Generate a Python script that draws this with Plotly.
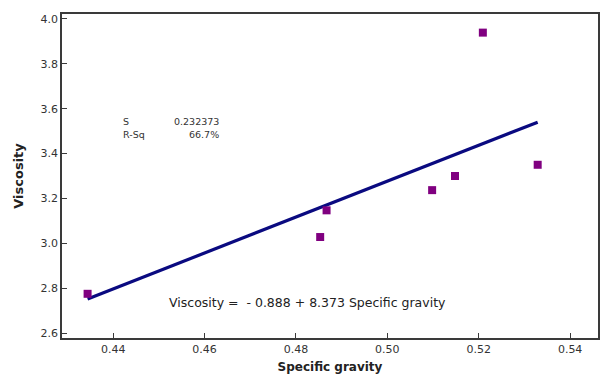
import plotly.graph_objects as go

# Data
sg = [0.4344, 0.4853, 0.4867, 0.5098, 0.5148, 0.5209, 0.5329]
visc = [2.775, 3.028, 3.147, 3.237, 3.300, 3.939, 3.350]
fit_x = [0.4344, 0.5329]
fit_y = [2.752, 3.540]
x_ticks = [0.44, 0.46, 0.48, 0.50, 0.52, 0.54]
y_ticks = [2.6, 2.8, 3.0, 3.2, 3.4, 3.6, 3.8, 4.0]

FONT = "DejaVu Sans"

fig = go.Figure()
fig.add_trace(go.Scatter(x=fit_x, y=fit_y, mode="lines",
                         line=dict(color="#0a0a80", width=3.2), showlegend=False))
fig.add_trace(go.Scatter(x=sg, y=visc, mode="markers",
                         marker=dict(symbol="square", size=8, color="#800080"),
                         showlegend=False))

axis_common = dict(showline=True, mirror=True, linecolor="#3a3a3a", linewidth=1.5,
                   ticks="inside", ticklen=5, tickwidth=1.2, tickcolor="#3a3a3a",
                   showgrid=False, zeroline=False, automargin=False,
                   tickfont=dict(family=FONT, size=11, color="#333333"))

fig.update_xaxes(range=[0.4288, 0.5461], tickvals=x_ticks,
                 ticktext=[f"{v:.2f}" for v in x_ticks],
                 title=dict(text="<b>Specific gravity</b>", standoff=11,
                            font=dict(family=FONT, size=12, color="#222222")),
                 **axis_common)
fig.update_yaxes(range=[2.578, 4.022], tickvals=y_ticks,
                 ticktext=[f"{v:.1f}" for v in y_ticks],
                 title=dict(text="<b>Viscosity</b>", standoff=14,
                            font=dict(family=FONT, size=13, color="#222222")),
                 **axis_common)

ann_font = dict(family=FONT, size=9.5, color="#333333")
fig.add_annotation(x=0.4417, y=3.545, text="S", showarrow=False, xanchor="left", font=ann_font)
fig.add_annotation(x=0.4637, y=3.545, text="0.232373", showarrow=False, xanchor="right", font=ann_font)
fig.add_annotation(x=0.4417, y=3.484, text="R-Sq", showarrow=False, xanchor="left", font=ann_font)
fig.add_annotation(x=0.4637, y=3.484, text="66.7%", showarrow=False, xanchor="right", font=ann_font)
fig.add_annotation(x=0.4826, y=2.737, text="Viscosity =  - 0.888 + 8.373 Specific gravity",
                   showarrow=False, xanchor="center",
                   font=dict(family=FONT, size=12.5, color="#222222"))

fig.update_layout(width=603, height=374, margin=dict(l=62, r=5, t=14, b=36),
                  plot_bgcolor="white", paper_bgcolor="white")

fig.write_html("out.html")
